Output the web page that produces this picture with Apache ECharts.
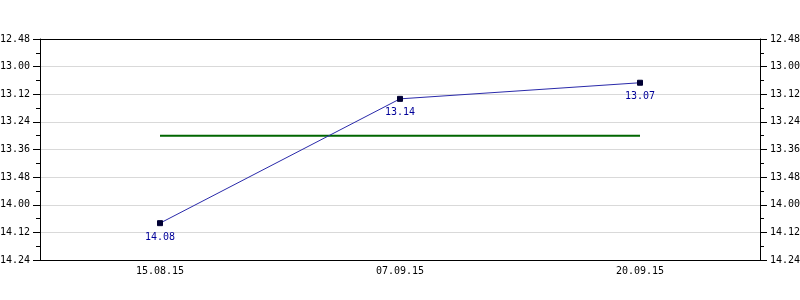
<!DOCTYPE html>
<html><head><meta charset="utf-8">
<script src="https://cdn.jsdelivr.net/npm/echarts@6/dist/echarts.min.js"></script>
<style>html,body{margin:0;padding:0;background:#fff}#c{width:800px;height:300px}</style>
</head><body><div id="c"></div>
<script>
// values in seconds (label shows minutes.seconds)
const categories = ['15.08.15', '07.09.15', '20.09.15'];
const times = [848, 794, 787];        // 14.08, 13.14, 13.07
const averageLine = [810, 810, 810];  // ~13.30
const yMin = 768, yMax = 864, yStep = 12;

function fmt(v) {
  const m = Math.floor(v / 60), s = Math.round(v - m * 60);
  return m + '.' + (s < 10 ? '0' : '') + s;
}
const font = 'DejaVu Sans Mono';
function yAxis(pos) {
  return {
    type: 'value', position: pos, inverse: true,
    min: yMin, max: yMax, interval: yStep,
    axisLine: { show: true, lineStyle: { color: '#000', width: 1 } },
    axisTick: { show: true, length: 7, lineStyle: { color: '#000' } },
    minorTick: { show: true, splitNumber: 2, length: 4, lineStyle: { color: '#000' } },
    splitLine: { show: pos === 'left', lineStyle: { color: '#d9d9d9', width: 1 } },
    axisLabel: { color: '#000', fontFamily: font, fontSize: 10, margin: 10, formatter: fmt }
  };
}
const chart = echarts.init(document.getElementById('c'), null, { renderer: 'canvas' });
chart.setOption({
  animation: false,
  backgroundColor: '#fff',
  grid: { left: 40, right: 40, top: 39, bottom: 40, containLabel: false, outerBoundsMode: 'none' },
  xAxis: [{
    type: 'category', data: categories, boundaryGap: true,
    axisLine: { lineStyle: { color: '#000', width: 1 } },
    axisTick: { alignWithLabel: true, length: 5, lineStyle: { color: '#000' } },
    axisLabel: { color: '#000', fontFamily: font, fontSize: 10, margin: 6 }
  }, {
    type: 'category', data: categories, position: 'top', boundaryGap: true,
    axisLine: { lineStyle: { color: '#000', width: 1 } },
    axisTick: { show: false }, axisLabel: { show: false }, splitLine: { show: false }
  }],
  yAxis: [yAxis('left'), yAxis('right')],
  series: [
    {
      type: 'line', data: averageLine, yAxisIndex: 0, symbol: 'none',
      lineStyle: { color: '#006600', width: 2 }, z: 2
    },
    {
      type: 'line', data: times, yAxisIndex: 0,
      symbol: 'rect', symbolSize: 5,
      itemStyle: { color: '#000033', borderColor: '#000033' },
      lineStyle: { color: '#2a2aaa', width: 1 },
      label: { show: true, position: 'bottom', distance: 6, color: '#000099', fontFamily: font, fontSize: 10, formatter: p => fmt(p.value) },
      z: 3
    }
  ]
});
</script></body></html>
